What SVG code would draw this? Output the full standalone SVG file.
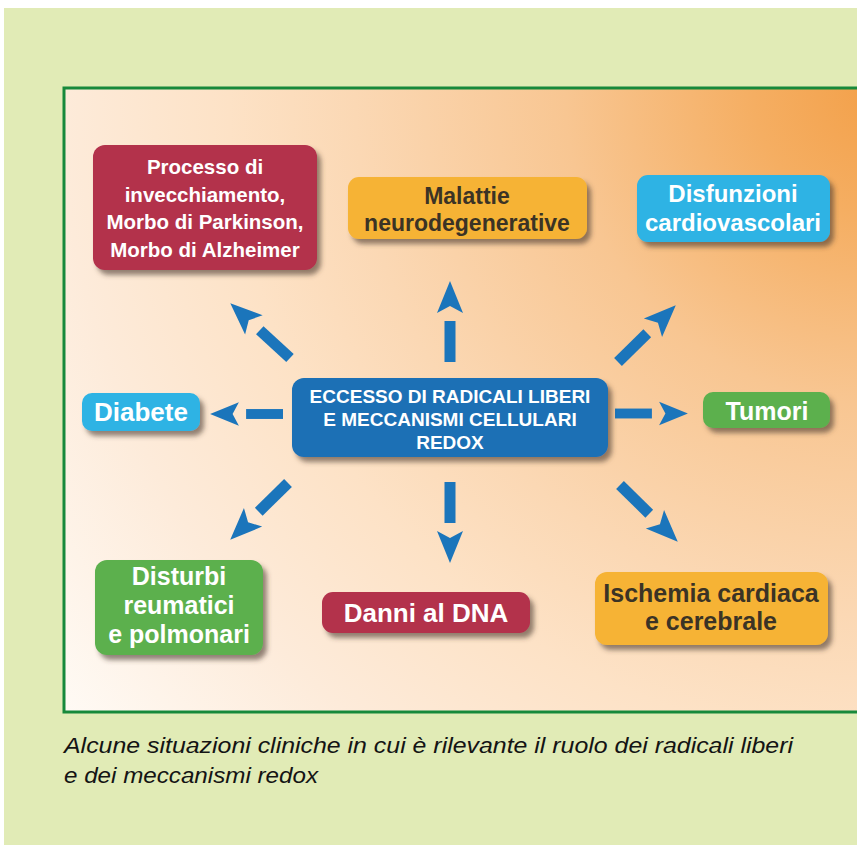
<svg xmlns="http://www.w3.org/2000/svg" width="857" height="845" viewBox="0 0 857 845">
  <defs>
    <radialGradient id="bg" gradientUnits="userSpaceOnUse" cx="880" cy="90" r="1050">
      <stop offset="0" stop-color="#f3a049"/>
      <stop offset="0.12" stop-color="#f5ae62"/>
      <stop offset="0.3" stop-color="#f8c692"/>
      <stop offset="0.5" stop-color="#fbd8b4"/>
      <stop offset="0.62" stop-color="#fde2c6"/>
      <stop offset="0.78" stop-color="#fdebda"/>
      <stop offset="1" stop-color="#fffcf8"/>
    </radialGradient>
    <filter id="sh" x="-20%" y="-20%" width="150%" height="160%">
      <feGaussianBlur in="SourceAlpha" stdDeviation="2.5"/>
      <feOffset dx="4" dy="5" result="b"/>
      <feFlood flood-color="#4a3a30" flood-opacity="0.6"/>
      <feComposite in2="b" operator="in"/>
      <feMerge><feMergeNode/><feMergeNode in="SourceGraphic"/></feMerge>
    </filter>
    <g id="arr">
      <rect x="0" y="-5.5" width="41" height="11"/>
      <path d="M49,-13 L81,0 L49,13 L56,0 Z"/>
    </g>
  </defs>
  <style>
    .lbl { font-family: "Liberation Sans", Arial, sans-serif; font-weight: bold; text-anchor: middle; }
    .w { fill: #ffffff; }
    .d { fill: #3b3325; }
    .cap { font-family: "Liberation Sans", Arial, sans-serif; font-style: italic; font-size: 21.5px; fill: #141414; }
  </style>
  <rect x="0" y="0" width="857" height="845" fill="#ffffff"/>
  <rect x="4" y="8" width="853" height="837" fill="#e1ebb6"/>
  <rect x="64" y="88" width="810" height="624" fill="url(#bg)" stroke="#17893b" stroke-width="3"/>

  <g id="connectors" fill="#1b75bb">
    <use href="#arr" transform="translate(450,362) rotate(-90)"/>
    <use href="#arr" transform="translate(450,482) rotate(90)"/>
    <use href="#arr" transform="translate(283,414) rotate(180) scale(0.9)"/>
    <use href="#arr" transform="translate(615,413.5) scale(0.9)"/>
    <use href="#arr" transform="translate(290,358) rotate(-137.5)"/>
    <use href="#arr" transform="translate(618,362) rotate(-44.5)"/>
    <use href="#arr" transform="translate(288,483) rotate(135.5)"/>
    <use href="#arr" transform="translate(620,485) rotate(44.5)"/>
  </g>

  <g id="center">
    <rect x="292" y="378" width="316" height="79" rx="12" fill="#1a70b5" filter="url(#sh)"/>
    <text class="lbl w" font-size="19" x="450" y="403">ECCESSO DI RADICALI LIBERI</text>
    <text class="lbl w" font-size="19" x="450" y="426">E MECCANISMI CELLULARI</text>
    <text class="lbl w" font-size="19" x="450" y="449">REDOX</text>
  </g>

  <g id="invecchiamento">
    <rect x="93" y="145" width="224" height="125" rx="12" fill="#b3304c" filter="url(#sh)"/>
    <text class="lbl w" font-size="20.5" x="205" y="174">Processo di</text>
    <text class="lbl w" font-size="20.5" x="205" y="201.5">invecchiamento,</text>
    <text class="lbl w" font-size="20.5" x="205" y="229">Morbo di Parkinson,</text>
    <text class="lbl w" font-size="20.5" x="205" y="256.5">Morbo di Alzheimer</text>
  </g>

  <g id="neuro">
    <rect x="348" y="177" width="239" height="62" rx="11" fill="#f6b334" filter="url(#sh)"/>
    <text class="lbl d" font-size="23" x="467" y="204">Malattie</text>
    <text class="lbl d" font-size="23" x="467" y="231">neurodegenerative</text>
  </g>

  <g id="cardiovascolari">
    <rect x="637" y="175" width="193" height="67" rx="11" fill="#2db3e4" filter="url(#sh)"/>
    <text class="lbl w" font-size="24" x="733" y="202">Disfunzioni</text>
    <text class="lbl w" font-size="24" x="733" y="231">cardiovascolari</text>
  </g>

  <g id="tumori">
    <rect x="703" y="392" width="127" height="36" rx="10" fill="#5bb04d" filter="url(#sh)"/>
    <text class="lbl w" font-size="25" x="767" y="420">Tumori</text>
  </g>

  <g id="diabete">
    <rect x="82" y="393" width="118" height="38" rx="10" fill="#2db3e4" filter="url(#sh)"/>
    <text class="lbl w" font-size="26" x="141" y="421">Diabete</text>
  </g>

  <g id="reumatici">
    <rect x="95" y="560" width="168" height="95" rx="12" fill="#5bb04d" filter="url(#sh)"/>
    <text class="lbl w" font-size="25" x="179" y="585">Disturbi</text>
    <text class="lbl w" font-size="25" x="179" y="614">reumatici</text>
    <text class="lbl w" font-size="25" x="179" y="643">e polmonari</text>
  </g>

  <g id="dna">
    <rect x="322" y="592" width="208" height="41" rx="11" fill="#b3304c" filter="url(#sh)"/>
    <text class="lbl w" font-size="26" x="426" y="622">Danni al DNA</text>
  </g>

  <g id="ischemia">
    <rect x="595" y="572" width="233" height="73" rx="12" fill="#f6b334" filter="url(#sh)"/>
    <text class="lbl d" font-size="25" x="711" y="602">Ischemia cardiaca</text>
    <text class="lbl d" font-size="25" x="711" y="630">e cerebrale</text>
  </g>

  <g id="caption">
    <text class="cap" x="64" y="753" textLength="729" lengthAdjust="spacingAndGlyphs">Alcune situazioni cliniche in cui è rilevante il ruolo dei radicali liberi</text>
    <text class="cap" x="64" y="783" textLength="254" lengthAdjust="spacingAndGlyphs">e dei meccanismi redox</text>
  </g>
</svg>
